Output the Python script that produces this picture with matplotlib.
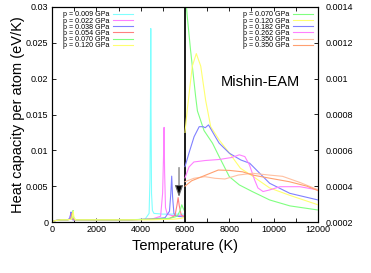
import matplotlib
matplotlib.use("Agg")
import matplotlib.pyplot as plt
from matplotlib.ticker import MultipleLocator

plt.rcParams["font.family"] = ["Liberation Sans", "DejaVu Sans"]

# ---------------------------------------------------------------------------
# donnees : partie gauche (T < 6000 K, axe y gauche)
# ---------------------------------------------------------------------------
t_009 = [0, 150, 400, 700, 780, 820, 860, 950, 1500, 2500, 3500, 4200, 4380, 4420, 4445, 4456, 4468, 4490, 4530, 4600, 5000, 5500, 6000]
c_009 = [0.0, 0.0002, 0.0003, 0.0003, 0.0004, 0.0007, 0.0004, 0.0003, 0.0003, 0.0003, 0.0003, 0.0004, 0.0012, 0.006, 0.018, 0.027, 0.016, 0.004, 0.0016, 0.0012, 0.0011, 0.0011, 0.0011]

t_022 = [0, 150, 400, 700, 790, 830, 870, 950, 1500, 2500, 3500, 4500, 4900, 4990, 5030, 5056, 5080, 5120, 5200, 5400, 6000]
c_022 = [0.0, 0.0002, 0.0003, 0.0003, 0.0004, 0.0009, 0.0004, 0.0003, 0.0003, 0.0003, 0.0003, 0.0004, 0.0008, 0.004, 0.009, 0.0132, 0.007, 0.002, 0.0011, 0.0009, 0.0009]

t_038 = [0, 150, 400, 700, 800, 840, 858, 880, 950, 1500, 2500, 3500, 4500, 5100, 5300, 5360, 5400, 5440, 5500, 5600, 6000]
c_038 = [0.0, 0.0002, 0.0003, 0.0003, 0.0005, 0.0011, 0.0014, 0.0008, 0.0003, 0.0003, 0.0003, 0.0003, 0.0004, 0.0006, 0.0015, 0.004, 0.0064, 0.0035, 0.0012, 0.0008, 0.0007]

t_054 = [0, 150, 400, 700, 830, 880, 900, 930, 1000, 1500, 2500, 3500, 4500, 5300, 5550, 5640, 5690, 5740, 5820, 5900, 6000]
c_054 = [0.0, 0.0002, 0.0003, 0.0003, 0.0004, 0.0009, 0.0012, 0.0006, 0.0003, 0.0003, 0.0003, 0.0003, 0.0004, 0.0005, 0.0009, 0.0024, 0.0034, 0.0023, 0.0011, 0.0008, 0.0008]

t_070 = [0, 150, 400, 700, 880, 930, 950, 975, 1050, 1500, 2500, 3500, 4500, 5300, 5650, 5780, 5855, 5920, 6000]
c_070 = [0.0, 0.0002, 0.0003, 0.0003, 0.0004, 0.0012, 0.0016, 0.0007, 0.0003, 0.0003, 0.0003, 0.0003, 0.0004, 0.0005, 0.0008, 0.0016, 0.0024, 0.0019, 0.0014]

t_120 = [0, 150, 400, 700, 890, 940, 960, 985, 1060, 1500, 2500, 3500, 4500, 5500, 5800, 5950, 6000]
c_120 = [0.0, 0.0002, 0.0003, 0.0003, 0.0004, 0.0011, 0.0015, 0.0007, 0.0003, 0.0003, 0.0003, 0.0003, 0.0003, 0.0004, 0.0005, 0.0006, 0.0007]

# ---------------------------------------------------------------------------
# donnees : partie droite (T > 6000 K, axe y droit)
# ---------------------------------------------------------------------------
tr_070 = [6000, 6100, 6250, 6480, 6560, 6860, 7240, 7540, 8000, 8450, 9050, 9820, 10730, 12000]
cr_070 = [0.0015, 0.00135, 0.00116, 0.0009, 0.00082, 0.00071, 0.00064, 0.000565, 0.000453, 0.000407, 0.000369, 0.000323, 0.00029, 0.000267]

tr_120 = [6000, 6100, 6330, 6510, 6710, 6930, 7160, 7540, 8000, 8500, 9000, 9820, 10700, 12000]
cr_120 = [0.0007, 0.000825, 0.00107, 0.00114, 0.00107, 0.00088, 0.000732, 0.000658, 0.000585, 0.0005, 0.00046, 0.00039, 0.00035, 0.000296]

tr_182 = [6000, 6180, 6410, 6640, 6820, 6910, 7060, 7320, 7540, 8000, 8520, 8920, 9820, 10730, 12000]
cr_182 = [0.000509, 0.000585, 0.000676, 0.000732, 0.000732, 0.000726, 0.000742, 0.000686, 0.00064, 0.000584, 0.000546, 0.000528, 0.000416, 0.00036, 0.000323]

tr_262 = [6000, 6180, 6400, 6900, 7550, 8100, 8450, 8700, 8910, 9140, 9290, 9520, 9820, 10280, 11180, 12000]
cr_262 = [0.000446, 0.000507, 0.000535, 0.000543, 0.000549, 0.00056, 0.000575, 0.000565, 0.000518, 0.000435, 0.00039, 0.00037, 0.000379, 0.000397, 0.000397, 0.000379]

tr_350a = [6000, 6400, 6900, 7350, 7800, 8400, 9050, 9800, 10400, 11200, 12000]
cr_350a = [0.000425, 0.000444, 0.000453, 0.000444, 0.00044, 0.000462, 0.000472, 0.000462, 0.000455, 0.00042, 0.00038]

tr_350b = [6000, 6300, 6800, 7500, 8000, 8600, 9050, 9800, 10700, 11500, 12000]
cr_350b = [0.0004, 0.00043, 0.000455, 0.00049, 0.000488, 0.00048, 0.000462, 0.000445, 0.000425, 0.0004, 0.000375]

x_ticks = [0, 2000, 4000, 6000, 8000, 10000, 12000]
x_labels = ["0", "2000", "4000", "6000", "8000", "10000", "12000"]
yg_ticks = [0, 0.005, 0.01, 0.015, 0.02, 0.025, 0.03]
yg_labels = ["0", "0.005", "0.01", "0.015", "0.02", "0.025", "0.03"]
yd_ticks = [0.0002, 0.0004, 0.0006, 0.0008, 0.001, 0.0012, 0.0014]
yd_labels = ["0.0002", "0.0004", "0.0006", "0.0008", "0.001", "0.0012", "0.0014"]

CYAN, MAGENTA, BLEU = "#80ffff", "#ff80ff", "#8080ff"
ROUGE, VERT, JAUNE = "#ff8080", "#80ff80", "#ffff70"
ORANGE_CLAIR, ORANGE = "#ffc0a0", "#ffa070"

W, H = 371, 273
fig = plt.figure(figsize=(W / 100, H / 100), dpi=100)
ax = fig.add_axes([52 / W, 1 - 222 / H, 266 / W, 215 / H])
ax2 = ax.twinx()

lw = 0.8
gauche = [
    (t_009, c_009, CYAN, "p = 0.009 GPa"),
    (t_022, c_022, MAGENTA, "p = 0.022 GPa"),
    (t_038, c_038, BLEU, "p = 0.038 GPa"),
    (t_054, c_054, ROUGE, "p = 0.054 GPa"),
    (t_070, c_070, VERT, "p = 0.070 GPa"),
    (t_120, c_120, JAUNE, "p = 0.120 GPa"),
]
droite = [
    (tr_070, cr_070, VERT, "p = 0.070 GPa"),
    (tr_120, cr_120, JAUNE, "p = 0.120 GPa"),
    (tr_182, cr_182, BLEU, "p = 0.182 GPa"),
    (tr_262, cr_262, MAGENTA, "p = 0.262 GPa"),
    (tr_350a, cr_350a, ORANGE_CLAIR, "p = 0.350 GPa"),
    (tr_350b, cr_350b, ORANGE, "p = 0.350 GPa"),
]

lignes_g = []
for t, c, col, lab in gauche:
    l, = ax.plot(t, c, color=col, lw=lw, label=lab)
    lignes_g.append(l)
lignes_d = []
for t, c, col, lab in droite:
    l, = ax2.plot(t, c, color=col, lw=lw, label=lab)
    lignes_d.append(l)

ax.axvline(6000, color="0.1", lw=1.4, zorder=5)

ax.annotate("", xy=(5730, 0.0035), xytext=(5730, 0.0076),
            arrowprops=dict(arrowstyle="-|>,head_length=0.7,head_width=0.25",
                            fc="black", ec="0.4", lw=0.8, shrinkA=0, shrinkB=0))

ax.set_xlim(0, 12000)
ax.set_ylim(0, 0.03)
ax2.set_ylim(0.0002, 0.0014)

ax.set_xticks(x_ticks)
ax.set_xticklabels(x_labels)
ax.xaxis.set_minor_locator(MultipleLocator(1000))
ax.set_yticks(yg_ticks)
ax.set_yticklabels(yg_labels)
ax2.set_yticks(yd_ticks)
ax2.set_yticklabels(yd_labels)

ax.tick_params(which="both", direction="in", length=3, width=0.6, top=True, right=False,
               labelsize=6.5, pad=2.5)
ax2.tick_params(direction="in", length=3, width=0.6, labelsize=6.5, pad=5.5)

for a in (ax, ax2):
    for s in a.spines.values():
        s.set_linewidth(0.8)

ax.set_xlabel("Temperature (K)", fontsize=10.5, labelpad=3)
ax.set_ylabel("Heat capacity per atom (eV/K)", fontsize=10.5, labelpad=1)

ax2.text(9420, 0.00098, "Mishin-EAM", fontsize=10.5, ha="center", va="center")

opts = dict(frameon=False, fontsize=5.1, handlelength=2.8, handletextpad=0.55,
            labelspacing=-0.12, borderpad=0, borderaxespad=0, markerfirst=False,
            loc="upper left", bbox_transform=fig.transFigure)
leg1 = ax2.legend(handles=lignes_g, bbox_to_anchor=(63 / W, 1 - 11.5 / H), **opts)
ax2.add_artist(leg1)
ax2.legend(handles=lignes_d, bbox_to_anchor=(243 / W, 1 - 11.5 / H), **opts)

fig.savefig("out.png", dpi=100)
